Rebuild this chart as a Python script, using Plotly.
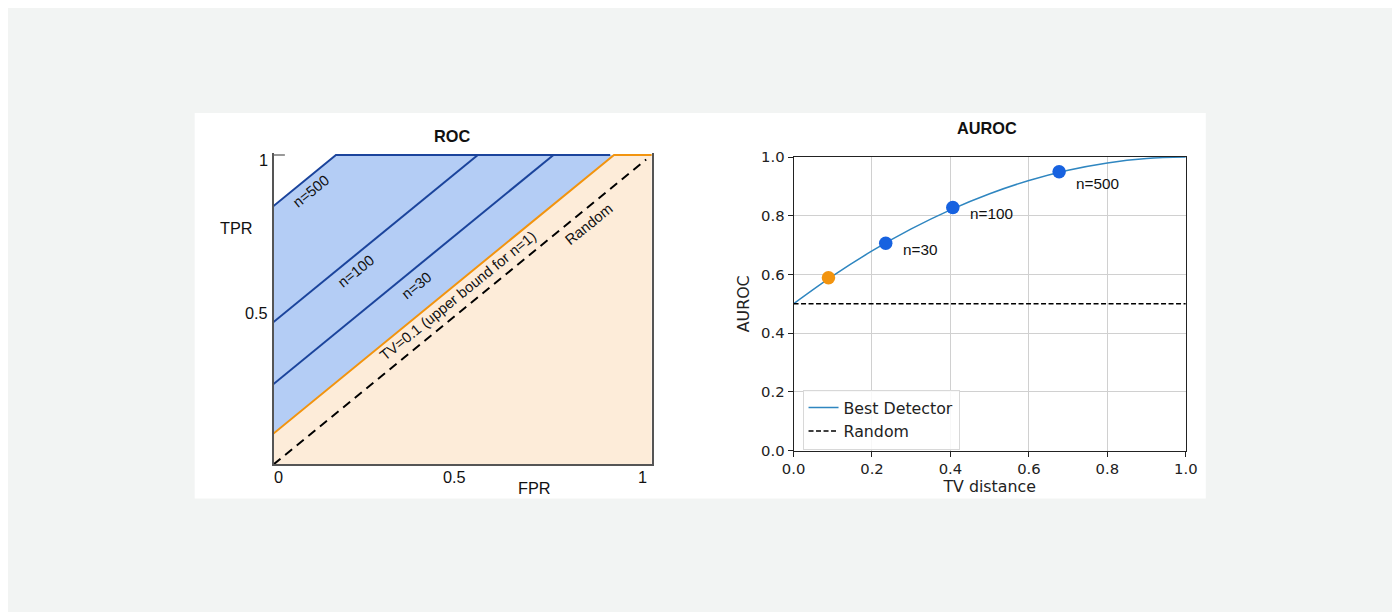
import plotly.graph_objects as go

W, H = 1400, 612
# the browser shot maps figure pixels as  shot = SX*fig + OX  (measured from earlier renders)
SX, OX = 0.9847, 18.0
SY, OY = 0.974, 15.7
FS = 1 / 0.98  # small font compensation for that scale

# ---- left panel: ROC curves ----
fpr_n500 = [0.0, 0.165, 0.89]
tpr_n500 = [0.835, 1.0, 1.0]
fpr_n100 = [0.0, 0.54]
tpr_n100 = [0.46, 1.0]
fpr_n30 = [0.0, 0.74]
tpr_n30 = [0.26, 1.0]
fpr_tv = [0.0, 0.9, 1.0]
tpr_tv = [0.1, 1.0, 1.0]
fpr_random = [0.0, 0.985]
tpr_random = [0.0, 0.985]

roc_xticks = ["0", "0.5", "1"]
roc_yticks = ["1", "0.5"]

# ---- right panel: AUROC vs TV distance ----
tv_grid = [0.0, 0.1, 0.2, 0.3, 0.4, 0.5, 0.6, 0.7, 0.8, 0.9, 1.0]
auroc_best = [0.5, 0.595, 0.68, 0.755, 0.82, 0.875, 0.92, 0.955, 0.98, 0.995, 1.0]
random_x = [0.0, 1.0]
random_y = [0.5, 0.5]
n1_point = (0.089, 0.589)
n_labels = ["n=30", "n=100", "n=500"]
n_tv = [0.235, 0.406, 0.677]
n_auroc = [0.706, 0.828, 0.95]

BLUE_FILL = "#b4cdf5"
PEACH = "#fdecd9"
DARK_BLUE = "#1b449c"
ORANGE = "#f2940f"
GREY_FRAME = "#555555"
ARIAL = "Liberation Sans, Arial, sans-serif"
DEJAVU = "DejaVu Sans, sans-serif"


def px_x(p):
    return ((p - OX) / SX) / W


def px_y(p):
    return 1 - ((p - OY) / SY) / H


def fs(s):
    return round(s * FS, 1)


fig = go.Figure()

# fills: peach below the TV line, blue between TV line and n=500
fig.add_trace(go.Scatter(
    x=fpr_tv + [1.0, 0.0], y=tpr_tv + [0.0, 0.0],
    fill="toself", fillcolor=PEACH, mode="none",
    hoverinfo="skip", showlegend=False, xaxis="x", yaxis="y"))
fig.add_trace(go.Scatter(
    x=fpr_n500 + fpr_tv[:2][::-1], y=tpr_n500 + tpr_tv[:2][::-1],
    fill="toself", fillcolor=BLUE_FILL, mode="none",
    hoverinfo="skip", showlegend=False, xaxis="x", yaxis="y"))

for fx, ty in [(fpr_n500, tpr_n500), (fpr_n100, tpr_n100), (fpr_n30, tpr_n30)]:
    fig.add_trace(go.Scatter(x=fx, y=ty, mode="lines",
                             line=dict(color=DARK_BLUE, width=2),
                             showlegend=False, xaxis="x", yaxis="y"))
fig.add_trace(go.Scatter(x=fpr_tv, y=tpr_tv, mode="lines",
                         line=dict(color=ORANGE, width=2),
                         showlegend=False, xaxis="x", yaxis="y"))
fig.add_trace(go.Scatter(x=fpr_random, y=tpr_random, mode="lines",
                         line=dict(color="black", width=2, dash="9px,6px"),
                         showlegend=False, xaxis="x", yaxis="y"))

# right panel traces
fig.add_trace(go.Scatter(x=tv_grid, y=auroc_best, mode="lines", name="Best Detector",
                         line=dict(color="#2f86c0", width=1.5, shape="spline"),
                         xaxis="x2", yaxis="y2"))
fig.add_trace(go.Scatter(x=random_x, y=random_y, mode="lines", name="Random",
                         line=dict(color="black", width=1.5, dash="5px,2.5px"),
                         xaxis="x2", yaxis="y2"))
fig.add_trace(go.Scatter(x=[n1_point[0]], y=[n1_point[1]], mode="markers",
                         marker=dict(color=ORANGE, size=13.5), showlegend=False,
                         cliponaxis=False, xaxis="x2", yaxis="y2"))
fig.add_trace(go.Scatter(x=n_tv, y=n_auroc, mode="markers",
                         marker=dict(color="#1762e0", size=13.5), showlegend=False,
                         cliponaxis=False, xaxis="x2", yaxis="y2"))

annotations = []
# left panel texts along the lines
ang = -39
for txt, x, y in [("n=500", 0.100, 0.884), ("n=100", 0.219, 0.626), ("n=30", 0.377, 0.577),
                  ("TV=0.1 (upper bound for n=1)", 0.487, 0.545), ("Random", 0.835, 0.776)]:
    annotations.append(dict(text=txt, x=x, y=y, xref="x", yref="y", showarrow=False,
                            xanchor="center", yanchor="middle", textangle=ang,
                            font=dict(family=ARIAL, size=fs(14.5), color="#111")))


def paper_text(txt, x, y, size, family):
    return dict(text=txt, x=px_x(x), y=px_y(y), xref="paper", yref="paper",
                xanchor="center", yanchor="middle", showarrow=False,
                font=dict(family=family, size=fs(size), color="#111"))


annotations.append(paper_text("<b>ROC</b>", 451, 135, 16, ARIAL))
annotations.append(paper_text("TPR", 235, 227, 16, ARIAL))
annotations.append(paper_text("FPR", 533, 488, 16, ARIAL))
annotations.append(paper_text("<b>AUROC</b>", 987, 127, 16, ARIAL))
# hand-placed tick labels of the ROC sketch
for txt, x in zip(roc_xticks, [277, 453, 642]):
    annotations.append(paper_text(txt, x, 477, 16, ARIAL))
for txt, y in zip(roc_yticks, [159, 312]):
    annotations.append(dict(text=txt, x=px_x(268), y=px_y(y), xref="paper", yref="paper",
                            xanchor="right", yanchor="middle", showarrow=False,
                            font=dict(family=ARIAL, size=fs(16), color="#111")))

# right panel point labels
for txt, x, y, ys in zip(n_labels, n_tv, n_auroc, [-6, -6, -12]):
    annotations.append(dict(text=txt, x=x, y=y, xref="x2", yref="y2", showarrow=False,
                            xanchor="left", yanchor="middle", xshift=15, yshift=ys,
                            font=dict(family=ARIAL, size=fs(15), color="#111")))

fig.update_layout(
    width=W, height=H,
    margin=dict(l=0, r=0, t=0, b=0),
    paper_bgcolor="#f2f4f3",
    plot_bgcolor="rgba(0,0,0,0)",
    shapes=[dict(type="rect", xref="paper", yref="paper", layer="below",
                 x0=px_x(193), x1=px_x(1206), y0=px_y(498), y1=px_y(112),
                 fillcolor="white", line=dict(width=0)),
            dict(type="line", xref="x", yref="y", x0=0, x1=0.03, y0=1, y1=1,
                 line=dict(color="#777777", width=1.5))],
    annotations=annotations,
    xaxis=dict(domain=[px_x(272), px_x(651)], range=[0, 1],
               showticklabels=False, ticks="",
               showgrid=False, zeroline=False, showline=True,
               linecolor=GREY_FRAME, linewidth=1.5),
    yaxis=dict(domain=[px_y(464), px_y(152)], range=[0, 1.006],
               showticklabels=False, ticks="",
               showgrid=False, zeroline=False, showline=True, mirror=True,
               linecolor=GREY_FRAME, linewidth=1.5),
    xaxis2=dict(domain=[px_x(793), px_x(1186)], range=[0, 1], anchor="y2",
                dtick=0.2, tickformat=".1f", ticks="outside", ticklen=5, tickcolor="#222",
                showgrid=True, gridcolor="#d0d0d0", zeroline=False,
                showline=True, mirror=True, linecolor="#222", linewidth=1,
                title=dict(text="TV distance", font=dict(family=DEJAVU, size=fs(15.5), color="#222"),
                           standoff=3),
                tickfont=dict(family=DEJAVU, size=fs(14.5), color="#222")),
    yaxis2=dict(domain=[px_y(450), px_y(156)], range=[0, 1], anchor="x2",
                dtick=0.2, tickformat=".1f", ticks="outside", ticklen=5, tickcolor="#222",
                showgrid=True, gridcolor="#d0d0d0", zeroline=False,
                showline=True, mirror=True, linecolor="#222", linewidth=1,
                title=dict(text="AUROC", font=dict(family=DEJAVU, size=fs(15.5), color="#222"),
                           standoff=7),
                tickfont=dict(family=DEJAVU, size=fs(14.5), color="#222")),
    legend=dict(x=px_x(802), y=px_y(389), xanchor="left", yanchor="top",
                bgcolor="rgba(255,255,255,0.85)", bordercolor="#d8d8d8", borderwidth=1,
                font=dict(family=DEJAVU, size=fs(15.5), color="#222"),
                tracegroupgap=0),
    showlegend=True,
)

fig.write_html("out.html")
